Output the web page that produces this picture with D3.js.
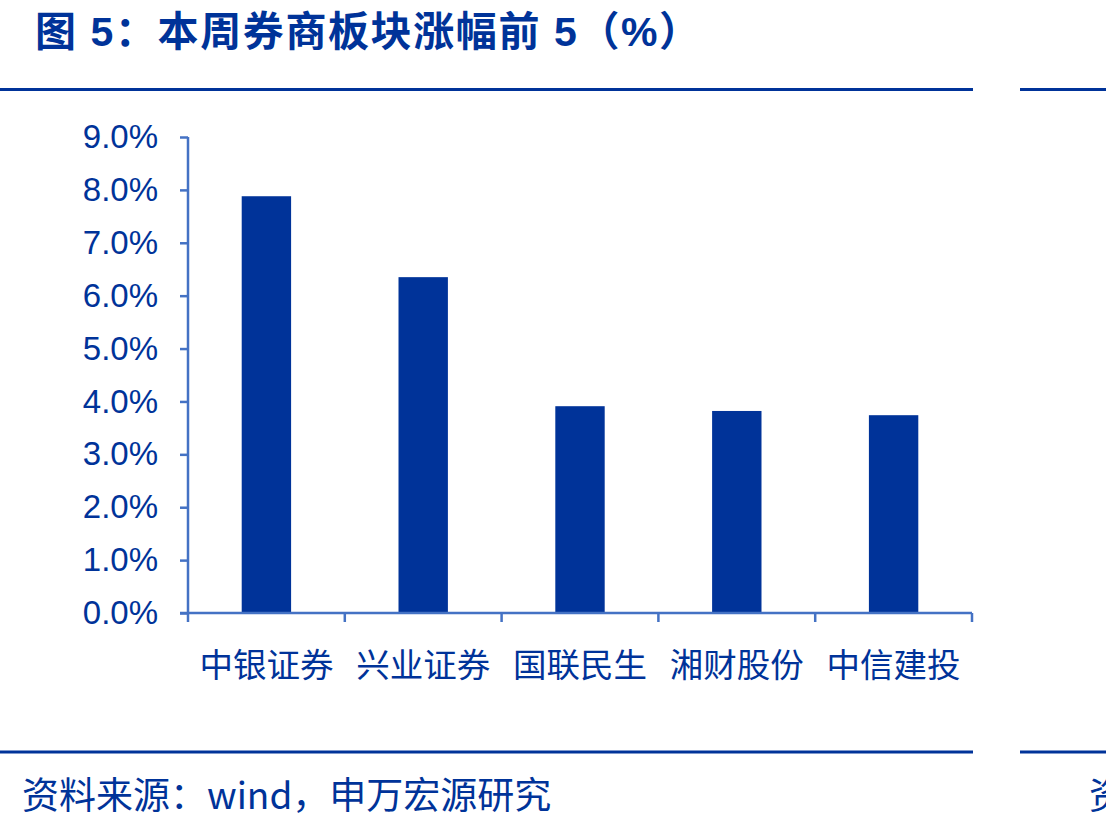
<!DOCTYPE html>
<html lang='en'>
<head>
	<meta charset='UTF-8'>
	<title>Document</title>
	<style>
		body { margin: 0; background: #fff; }
	</style>
</head>
<body>

<svg></svg>

<script src='https://d3js.org/d3.v7.min.js'></script>
<script>
// 图 5：本周券商板块涨幅前 5
const categories = ['中银证券', '兴业证券', '国联民生', '湘财股份', '中信建投']
const values = [7.88, 6.35, 3.91, 3.82, 3.74]
const yTicks = [0, 1, 2, 3, 4, 5, 6, 7, 8, 9]

const width = 1106
const height = 829
const textColor = '#003399'
const barColor = '#003399'
const axisColor = '#4472C4'
const cjk = "'Noto Sans CJK SC', 'Liberation Sans', sans-serif"

const svg = d3.select('svg')
	.attr('width', width)
	.attr('height', height)
	.style('display', 'block')

// title
svg.append('text')
	.attr('x', 35)
	.attr('y', 46)
	.attr('fill', textColor)
	.attr('font-family', "'Liberation Sans', 'Noto Sans CJK SC', sans-serif")
	.attr('font-weight', 'bold')
	.attr('font-size', 41)
	.attr('letter-spacing', 1.6)
	.text('图 5：本周券商板块涨幅前 5（%）')

// rules above and below the chart
const rules = [89.5, 752]
rules.forEach(y => {
	svg.append('rect').attr('x', 0).attr('y', y - 1.5).attr('width', 973).attr('height', 3).attr('fill', textColor)
	svg.append('rect').attr('x', 1020).attr('y', y - 1.5).attr('width', 86).attr('height', 3).attr('fill', textColor)
})

const x = d3.scaleBand()
	.domain(categories)
	.range([188, 972])
	.paddingInner(0.685)
	.paddingOuter(0.3425)

const y = d3.scaleLinear()
	.domain([0, 9])
	.range([613, 137])

// y axis
const yAxis = svg.append('g')
	.attr('transform', 'translate(188,0)')
	.call(d3.axisLeft(y).tickValues(yTicks).tickSize(8).tickPadding(22)
		.tickFormat(d => d.toFixed(1) + '%'))
yAxis.select('.domain').attr('stroke', axisColor).attr('stroke-width', 2.5)
	.attr('d', `M0,${y(9)}V${y(0)}`)
yAxis.selectAll('.tick line').attr('stroke', axisColor).attr('stroke-width', 2.5)
yAxis.selectAll('.tick text')
	.attr('fill', textColor)
	.attr('font-family', "'Liberation Sans', Arial, sans-serif")
	.attr('font-size', 33)

// bars
svg.append('g')
	.selectAll('rect')
	.data(values)
	.join('rect')
	.attr('x', (d, i) => x(categories[i]))
	.attr('y', d => y(d))
	.attr('width', x.bandwidth())
	.attr('height', d => y(0) - y(d))
	.attr('fill', barColor)

// x axis: ticks at band boundaries
const step = x.step()
const bounds = d3.range(categories.length + 1).map(i => 188 + i * step)
const xAxis = svg.append('g')
xAxis.append('line')
	.attr('x1', 180).attr('x2', 972)
	.attr('y1', y(0)).attr('y2', y(0))
	.attr('stroke', axisColor).attr('stroke-width', 2.5)
xAxis.selectAll('line.tk')
	.data(bounds)
	.join('line')
	.attr('class', 'tk')
	.attr('x1', d => d).attr('x2', d => d)
	.attr('y1', y(0)).attr('y2', y(0) + 9)
	.attr('stroke', axisColor).attr('stroke-width', 2.5)
xAxis.selectAll('text')
	.data(categories)
	.join('text')
	.attr('x', d => x(d) + x.bandwidth() / 2)
	.attr('y', 677)
	.attr('text-anchor', 'middle')
	.attr('fill', textColor)
	.attr('font-family', cjk)
	.attr('font-size', 33.5)
	.text(d => d)

// source
svg.append('text')
	.attr('x', 22)
	.attr('y', 809)
	.attr('fill', textColor)
	.attr('font-family', cjk)
	.attr('font-size', 37)
	.text('资料来源：wind，申万宏源研究')
svg.append('text')
	.attr('x', 1089)
	.attr('y', 809)
	.attr('fill', textColor)
	.attr('font-family', cjk)
	.attr('font-size', 37)
	.text('资')
</script>
</body>
</html>
